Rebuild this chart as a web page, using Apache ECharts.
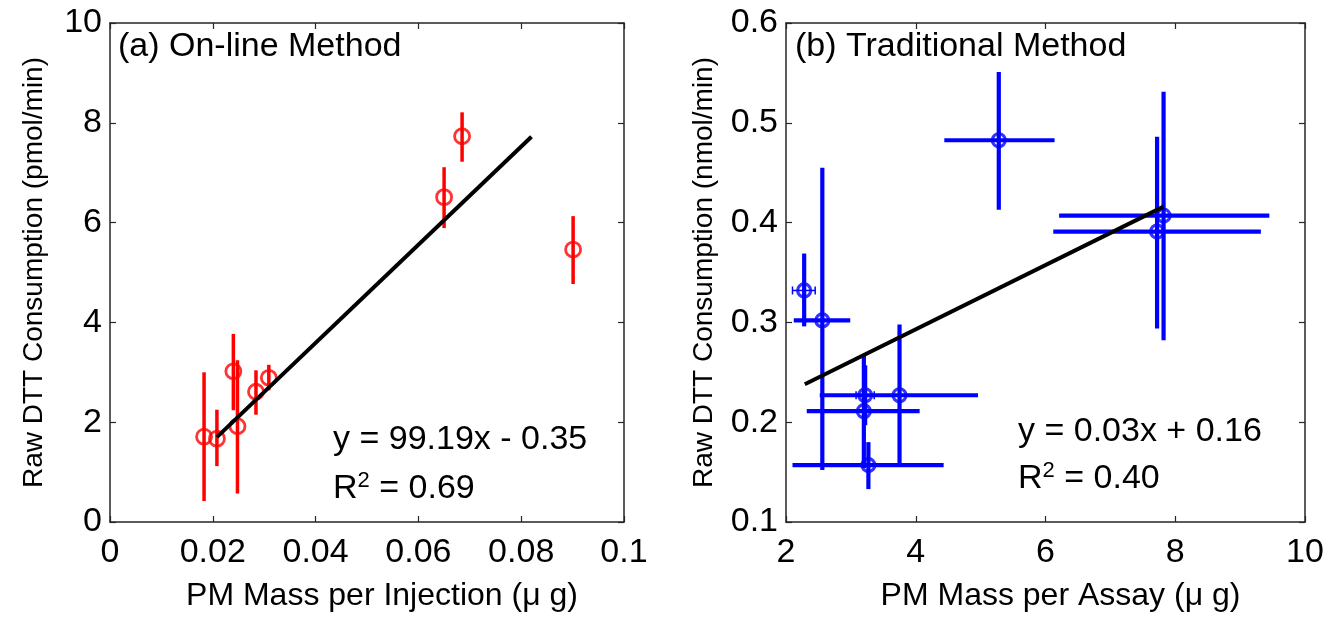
<!DOCTYPE html>
<html>
<head>
<meta charset="utf-8">
<script src="https://cdn.jsdelivr.net/npm/echarts@6/dist/echarts.min.js"></script>
<style>
html,body{margin:0;padding:0;background:#fff;}
#chart{width:1327px;height:623px;}
</style>
</head>
<body>
<div id="chart"></div>
<script>
// ---------- Panel (a): On-line method ----------
const aMass   = [0.0183, 0.0208, 0.0240, 0.0248, 0.0284, 0.0309, 0.0650, 0.0685, 0.0901];
const aDTT    = [1.71, 1.67, 3.02, 1.92, 2.61, 2.89, 6.51, 7.73, 5.46];
const aDTTLow = [0.42, 1.12, 2.24, 0.57, 2.15, 2.64, 5.89, 7.22, 4.77];
const aDTTHigh= [3.00, 2.25, 3.77, 3.24, 3.04, 3.15, 7.11, 8.21, 6.13];
const aFitX   = [0.0208, 0.0820];
const aFitY   = [1.70, 7.72];
const aXTicks = [0, 0.02, 0.04, 0.06, 0.08, 0.1];
const aYTicks = [0, 2, 4, 6, 8, 10];

// ---------- Panel (b): Traditional method ----------
const bMass     = [2.28, 2.56, 3.22, 3.20, 3.75, 3.27, 5.28, 7.82, 7.72];
const bMassLow  = [2.10, 2.12, 3.08, 2.32, 2.52, 2.10, 4.44, 6.21, 6.12];
const bMassHigh = [2.45, 2.99, 3.36, 4.06, 4.96, 4.43, 6.14, 9.45, 9.32];
const bDTT      = [0.332, 0.302, 0.227, 0.211, 0.227, 0.157, 0.4825, 0.407, 0.391];
const bDTTLow   = [0.296, 0.152, 0.197, 0.154, 0.159, 0.133, 0.413, 0.282, 0.294];
const bDTTHigh  = [0.369, 0.455, 0.257, 0.268, 0.298, 0.180, 0.551, 0.531, 0.486];
const bFitX     = [2.29, 7.82];
const bFitY     = [0.238, 0.416];
const bXTicks = [2, 4, 6, 8, 10];
const bYTicks = [0.1, 0.2, 0.3, 0.4, 0.5, 0.6];

const FONT = 'Liberation Sans, Arial, sans-serif';
const AX = '#262626';
const FS = 34;       // tick labels & annotations
const FS_XN = 32;    // x-axis titles
const FS_YN = 28;    // y-axis titles

function fmt(v){ return String(+v.toFixed(3)); }

function axisPair(gi, type, ticks, primaryName, nameGap){
  const min = ticks[0], max = ticks[ticks.length-1], interval = ticks[1]-ticks[0];
  const isX = type === 'x';
  const base = {
    type:'value', gridIndex: gi, min, max, interval,
    splitLine:{show:false},
    axisLine:{show:true, onZero:false, lineStyle:{color:AX, width:1.5}},
    axisTick:{show:true, inside:true, length:6, lineStyle:{color:AX, width:1.2}},
  };
  const primary = Object.assign({}, base, {
    position: isX ? 'bottom' : 'left',
    axisLabel:{show:true, color:'#000', fontFamily:FONT, fontSize:FS, margin: isX ? 14 : 8, formatter: fmt},
    name: primaryName, nameLocation:'middle', nameGap: nameGap,
    nameTextStyle: isX
      ? {color:'#000', fontFamily:FONT, fontSize:FS_XN, padding:[0,0,0,30]}
      : {color:'#000', fontFamily:FONT, fontSize:FS_YN},
  });
  if(!isX) primary.nameRotate = 90;
  const secondary = Object.assign({}, base, {
    position: isX ? 'top' : 'right',
    axisLabel:{show:false},
  });
  return [primary, secondary];
}

const aX = axisPair(0,'x',aXTicks,'PM Mass per Injection (\u03bc g)',58);
const aY = axisPair(0,'y',aYTicks,'Raw DTT Consumption (pmol/min)',62);
const bX = axisPair(1,'x',bXTicks,'PM Mass per Assay (\u03bc g)',58);
const bY = axisPair(1,'y',bYTicks,'Raw DTT Consumption (nmol/min)',68);

function barItem(color, width){
  return function(params, api){
    const x = api.value(0), y = api.value(1);
    const ylo = api.value(2), yhi = api.value(3);
    const children = [];
    const p1 = api.coord([x, ylo]), p2 = api.coord([x, yhi]);
    children.push({type:'line', shape:{x1:p1[0],y1:p1[1],x2:p2[0],y2:p2[1]}, style:{stroke:color, lineWidth:width}});
    const xlo = api.value(4), xhi = api.value(5);
    if (!isNaN(xlo) && !isNaN(xhi)) {
      const q1 = api.coord([xlo, y]), q2 = api.coord([xhi, y]);
      const thin = (q2[0]-q1[0]) < 30;
      children.push({type:'line', shape:{x1:q1[0],y1:q1[1],x2:q2[0],y2:q2[1]}, style:{stroke:color, lineWidth: thin ? 1.5 : width}});
      if (thin) {
        children.push({type:'line', shape:{x1:q1[0],y1:q1[1]-4,x2:q1[0],y2:q1[1]+4}, style:{stroke:color, lineWidth:1.5}});
        children.push({type:'line', shape:{x1:q2[0],y1:q2[1]-4,x2:q2[0],y2:q2[1]+4}, style:{stroke:color, lineWidth:1.5}});
      }
    }
    return {type:'group', children};
  };
}

const aBars = aMass.map((m,i)=>[m, aDTT[i], aDTTLow[i], aDTTHigh[i]]);
const bBars = bMass.map((m,i)=>[m, bDTT[i], bDTTLow[i], bDTTHigh[i], bMassLow[i], bMassHigh[i]]);

const supRich = {s:{fontFamily:FONT, fontSize:22, verticalAlign:'top', padding:[0,0,16,0]}};

const chart = echarts.init(document.getElementById('chart'), null, {renderer:'canvas'});
chart.setOption({
  animation:false,
  backgroundColor:'#fff',
  grid:[
    {left:110, top:23, width:514, height:499, show:false},
    {left:786, top:23, width:519, height:499, show:false}
  ],
  xAxis:[aX[0], aX[1], bX[0], bX[1]],
  yAxis:[aY[0], aY[1], bY[0], bY[1]],
  series:[
    {type:'custom', xAxisIndex:0, yAxisIndex:0, renderItem: barItem('#ff0000', 3.5),
     encode:{x:0,y:[1,2,3]}, data:aBars, z:2},
    {type:'scatter', xAxisIndex:0, yAxisIndex:0, symbol:'circle', symbolSize:15,
     itemStyle:{color:'rgba(0,0,0,0)', borderColor:'#ff0000', borderWidth:2.8},
     data: aMass.map((m,i)=>[m,aDTT[i]]), z:3},
    {type:'line', xAxisIndex:0, yAxisIndex:0, symbol:'none',
     lineStyle:{color:'#000', width:4}, data: aFitX.map((x,i)=>[x,aFitY[i]]), z:4},

    {type:'custom', xAxisIndex:2, yAxisIndex:2, renderItem: barItem('#0000ff', 4.2),
     encode:{x:[0,4,5],y:[1,2,3]}, data:bBars, z:2},
    {type:'scatter', xAxisIndex:2, yAxisIndex:2, symbol:'circle', symbolSize:13,
     itemStyle:{color:'rgba(0,0,0,0)', borderColor:'#0000ff', borderWidth:3.2},
     data: bMass.map((m,i)=>[m,bDTT[i]]), z:3},
    {type:'line', xAxisIndex:2, yAxisIndex:2, symbol:'none',
     lineStyle:{color:'#000', width:4}, data: bFitX.map((x,i)=>[x,bFitY[i]]), z:4}
  ],
  graphic:[
    {type:'text', left:118, top:30, style:{text:'(a) On-line Method', fontFamily:FONT, fontSize:FS, fill:'#000'}},
    {type:'text', left:333, top:423, style:{text:'y = 99.19x - 0.35', fontFamily:FONT, fontSize:FS, fill:'#000'}},
    {type:'text', left:333, top:470, style:{text:'R{s|2} = 0.69', fontFamily:FONT, fontSize:FS, fill:'#000', rich:supRich}},
    {type:'text', left:795, top:30, style:{text:'(b) Traditional Method', fontFamily:FONT, fontSize:FS, fill:'#000'}},
    {type:'text', left:1018, top:415, style:{text:'y = 0.03x + 0.16', fontFamily:FONT, fontSize:FS, fill:'#000'}},
    {type:'text', left:1018, top:460, style:{text:'R{s|2} = 0.40', fontFamily:FONT, fontSize:FS, fill:'#000', rich:supRich}}
  ]
});
</script>
</body>
</html>
